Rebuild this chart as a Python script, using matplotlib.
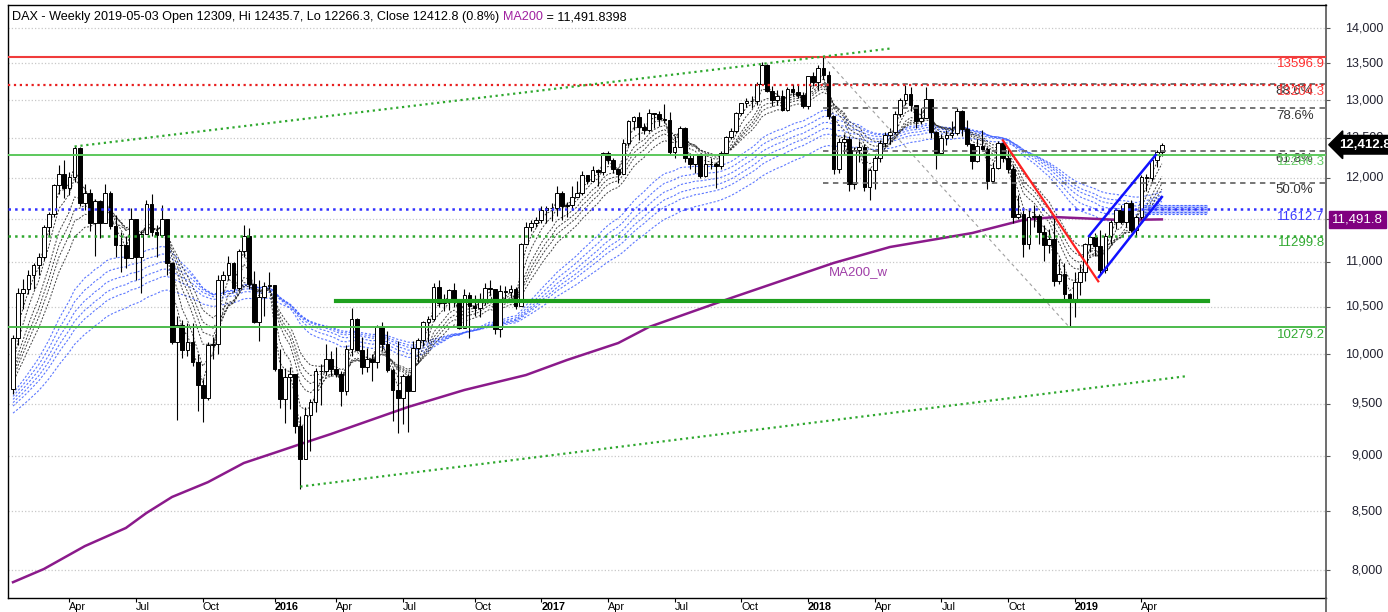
import numpy as np
import pandas as pd
import matplotlib
matplotlib.use("Agg")
import matplotlib.pyplot as plt
from matplotlib.lines import Line2D
from matplotlib.ticker import NullLocator, NullFormatter
from matplotlib.transforms import blended_transform_factory

plt.rcParams['font.family'] = ['Liberation Sans', 'DejaVu Sans']

# weekly closes before the first bar (2013 - Jan 9 2015), only used to warm up the moving averages
warmup_2013 = [7776, 7715, 7702, 7880, 7833, 7638, 7633, 7593, 7741, 7870, 8042, 7931, 7796,
               7658, 7812, 7459, 7815, 8122, 8278, 8399, 8306, 8349, 8254, 8127, 8058, 7789,
               7959, 7806, 8212, 8212, 8297, 8410, 8445, 8390, 8416, 8103, 8275, 8495, 8694,
               8675, 8594, 8725, 8870, 9001, 9009, 9078, 9168, 9226, 9405, 9172, 9006, 9400,
               9589, 9552]
warmup_2014 = [9435, 9473, 9742, 9392, 9306, 9290, 9662, 9657, 9692, 9350, 9056, 9342,
               9587, 9695, 9315, 9409, 9402, 9556, 9581, 9630, 9768, 9943, 9987, 9912,
               9987, 9815, 10009, 9666, 9720, 9644, 9210, 9009, 9092, 9339, 9470, 9747,
               9651, 9799, 9490, 9195, 8788, 8850, 8988, 9326, 9291, 9252, 9732, 9980,
               10087, 9594, 9787, 9865, 9805, 9765, 9648]

# DAX weekly bars, first bar = week ending 2015-01-16
close_2015 = [10168, 10650, 10694, 10846, 10963, 11051, 11402, 11551, 11902, 12039, 11868,
              12001, 12375, 11689, 11811, 11454, 11710, 11447, 11815, 11414, 11197, 11196,
              11040, 11492, 11058, 11316, 11673, 11347, 11309, 11491, 10985, 10125, 10299,
              10038, 10124, 9916, 9689, 9553, 10097, 10104, 10795, 10850, 10988, 10708,
              11120, 11294, 10752, 10340, 10608, 10728, 10743]
high_2015 = [10200, 10702, 10810, 10905, 10990, 11100, 11430, 11580, 11920, 12160, 12220,
             12070, 12391, 12390, 11920, 11860, 11740, 11720, 11920, 11830, 11550, 11340,
             11300, 11630, 11250, 11350, 11720, 11800, 11420, 11670, 11500, 11000, 10400,
             10360, 10330, 10330, 10000, 9750, 10120, 10180, 10850, 10900, 11060, 11000,
             11150, 11430, 11390, 10890, 10800, 10770, 10880]
low_2015 = [9600, 10090, 10480, 10640, 10700, 10850, 11020, 11300, 11520, 11800, 11750,
            11780, 11950, 11650, 11600, 11350, 11060, 11270, 11500, 11380, 11050, 10880,
            10930, 11150, 10800, 10650, 11330, 11300, 11050, 11280, 10850, 10100, 9338,
            9960, 9980, 9880, 9430, 9325, 9540, 9950, 10000, 10640, 10800, 10660,
            10680, 11050, 10700, 10330, 10140, 10400, 10700]

close_2016 = [9849, 9545, 9765, 9798, 9286, 8968, 9388, 9513, 9824, 9831, 9951, 9851,
              9795, 9622, 10052, 10373, 10039, 9870, 9953, 9916, 10286, 10103, 9835, 9631,
              9557, 9776, 9630, 10067, 10147, 10338, 10367, 10713, 10544, 10588, 10684,
              10573, 10276, 10627, 10511, 10491, 10580, 10711, 10696, 10259, 10668, 10665,
              10699, 10513, 11204, 11404, 11450, 11481]
high_2016 = [10690, 10050, 9860, 9870, 9790, 9380, 9470, 9550, 9860, 9900, 10100, 10030,
             10070, 9830, 10090, 10485, 10380, 10180, 10060, 10000, 10300, 10340, 10240, 9860,
             10140, 9800, 9800, 10140, 10170, 10350, 10400, 10760, 10800, 10640, 10700,
             10760, 10570, 10690, 10660, 10630, 10650, 10760, 10800, 10680, 10740, 10730,
             10740, 10720, 11220, 11460, 11480, 11520]
low_2016 = [9830, 9460, 9315, 9450, 9220, 8699, 8980, 9050, 9420, 9490, 9790, 9780,
            9770, 9480, 9590, 9980, 10030, 9800, 9820, 9730, 9860, 10030, 9820, 9330,
            9214, 9300, 9226, 9630, 9920, 10080, 10120, 10350, 10500, 10450, 10460,
            10500, 10260, 10280, 10170, 10400, 10390, 10520, 10630, 10210, 10175, 10560,
            10600, 10480, 10550, 11200, 11360, 11400]

close_2017 = [11599, 11629, 11630, 11814, 11651, 11667, 11757, 11804, 12027, 11963, 12095,
              12064, 12313, 12225, 12109, 12049, 12438, 12717, 12770, 12639, 12602, 12823,
              12816, 12753, 12733, 12325, 12389, 12632, 12240, 12163, 12298, 12014, 12165,
              12168, 12143, 12304, 12519, 12592, 12829, 12956, 12992, 12991, 13218, 13479,
              13127, 12994, 13060, 12861, 13154, 13104, 13073, 12918]
high_2017 = [11650, 11650, 11690, 11890, 11830, 11700, 11890, 11960, 12080, 12030, 12140,
             12110, 12320, 12330, 12250, 12100, 12490, 12740, 12790, 12840, 12700, 12880,
             12830, 12860, 12950, 12840, 12520, 12660, 12640, 12310, 12300, 12300, 12300,
             12240, 12200, 12330, 12530, 12630, 12840, 12960, 13030, 13050, 13250, 13526,
             13490, 13190, 13130, 13140, 13170, 13220, 13200, 13110]
low_2017 = [11450, 11450, 11470, 11530, 11480, 11520, 11600, 11770, 11790, 11920, 11950,
            11900, 12030, 12170, 12060, 11930, 12360, 12400, 12600, 12480, 12550, 12580,
            12630, 12650, 12690, 12300, 12250, 12400, 12200, 12110, 12050, 11990, 12010,
            12100, 11870, 12100, 12300, 12490, 12560, 12800, 12910, 12890, 12940, 13250,
            13110, 12920, 12930, 12850, 12860, 13060, 13030, 12900]

close_2018 = [13320, 13245, 13434, 13340, 12785, 12107, 12452, 12484, 11914, 12347, 12390,
              11886, 12097, 12241, 12442, 12541, 12581, 12820, 13001, 13078, 12938, 12724,
              12767, 13011, 12580, 12306, 12496, 12541, 12561, 12860, 12616, 12424, 12211,
              12395, 12364, 11960, 12124, 12431, 12247, 12112, 11524, 11554, 11201, 11519,
              11529, 11341, 11193, 11257, 10788, 10866, 10634, 10559]
high_2018 = [13330, 13380, 13480, 13597, 13400, 12770, 12500, 12550, 12530, 12380, 12460,
             12420, 12120, 12300, 12480, 12580, 12630, 12850, 13030, 13200, 13170, 12900,
             12900, 13170, 12930, 12590, 12550, 12600, 12720, 12890, 12870, 12740, 12420,
             12490, 12600, 12380, 12200, 12460, 12460, 12360, 12160, 11790, 11600, 11620,
             11660, 11560, 11420, 11380, 11510, 11030, 10990, 10650]
low_2018 = [12880, 13190, 13140, 13290, 12750, 12040, 12050, 12300, 11830, 11860, 12200,
            11830, 11730, 11860, 12200, 12380, 12420, 12550, 12780, 12930, 12850, 12630,
            12680, 12780, 12500, 12100, 12320, 12410, 12500, 12540, 12520, 12400, 12100,
            12200, 12350, 11860, 11930, 12100, 12200, 12050, 11450, 11500, 11050, 11150,
            11400, 11200, 11010, 11100, 10730, 10750, 10580, 10279]

close_2019 = [10768, 10887, 11206, 11282, 11181, 10907, 11300, 11458, 11602, 11458, 11686,
              11364, 11526, 12010, 12000, 12222, 12315, 12413]
high_2019 = [10880, 10980, 11210, 11300, 11330, 11370, 11330, 11480, 11630, 11660, 11700,
             11720, 11550, 12030, 12040, 12250, 12340, 12436]
low_2019 = [10390, 10630, 10780, 11110, 11060, 10860, 10870, 11200, 11380, 11440, 11400,
            11340, 11300, 11500, 11840, 11960, 12130, 12266]

# 200-week moving average (bar index, value)
ma200_bar = [0, 6, 14, 22, 26, 31, 38, 45, 51, 57, 62, 77, 88, 100, 108, 118, 124,
             140, 160, 171, 187, 197, 203, 216, 224]
ma200_val = [7900, 8008, 8200, 8355, 8485, 8627, 8760, 8935, 9030, 9127, 9207, 9467,
             9635, 9785, 9938, 10114, 10283, 10596, 10986, 11169, 11331, 11485, 11520,
             11485, 11492]

short_spans = [3, 5, 8, 10, 12, 15]
long_spans = [30, 35, 40, 45, 50, 60]

# projected zone of the long averages right of the last bar
zone_bars = [220.5, 233]
zone_lo = 11560
zone_hi = 11660

# swing high / low for the fibonacci retracement
swing_high = 13596.9
swing_high_bar = 158
swing_low = 10279.2
swing_low_bar = 206
fib_pcts = [50.0, 61.8, 78.6, 88.6]

# horizontal levels: value, colour, style, width, label colour
levels = [(13596.9, '#f03c3c', '-', 1.5, '#ff3030'),
          (13204.3, '#e82020', ':', 1.6, '#ff4040'),
          (12286.3, '#5cc85c', '-', 1.4, '#66cc66'),
          (11612.7, '#3030ff', ':', 1.8, '#3a3aff'),
          (11299.8, '#2ea82e', ':', 1.8, '#33aa33'),
          (10279.2, '#4cbb4c', '-', 1.4, '#33aa33')]
support_level = 10563
support_bars = [63, 233]

# drawn trend lines: (bar, price) pairs
upper_trend = [(12, 12391), (171, 13710)]
lower_trend = [(56, 8720), (229, 9775)]
red_trend = [(193, 12470), (211.6, 10780)]
channel_top = [(209.8, 11296), (222.8, 12283)]
channel_bottom = [(211.7, 10828), (224, 11761)]

y_ticks = list(range(8000, 14001, 500))

closes = np.array(close_2015 + close_2016 + close_2017 + close_2018 + close_2019, float)
highs = np.array(high_2015 + high_2016 + high_2017 + high_2018 + high_2019, float)
lows = np.array(low_2015 + low_2016 + low_2017 + low_2018 + low_2019, float)
warmup = warmup_2013 + warmup_2014
# weekly open taken as the prior week's close
opens = np.concatenate([[warmup[-1]], closes[:-1]])
n = len(closes)
x = np.arange(n)

dates = pd.date_range('2015-01-16', periods=n, freq='W-FRI')
dates = [d - pd.Timedelta(days=2) if (d.month == 1 and d.day == 1) else d for d in dates]

all_close = pd.Series(list(warmup) + list(closes))
short_ema = [all_close.ewm(span=s, adjust=False).mean().values[-n:] for s in short_spans]
long_ema = [all_close.ewm(span=s, adjust=False).mean().values[-n:] for s in long_spans]

W, H = 1388, 612
fig = plt.figure(figsize=(W / 100, H / 100), dpi=100)
ax = fig.add_axes([8 / W, 14 / H, 1318 / W, 593 / H])
ax.set_yscale('log')
ax.set_xlim(-0.98, 256)
ax.set_ylim(7772, 14341)

# grid
for lv in y_ticks:
    ax.axhline(lv, color='#c8c8c8', ls=':', lw=0.9, zorder=0)

# moving average ribbons
for e in long_ema:
    ax.plot(x, e, color='#4060ff', ls=(0, (2, 1.6)), lw=0.8, alpha=0.85, zorder=1)
for e in short_ema:
    ax.plot(x, e, color='#202020', ls=(0, (2, 1.6)), lw=0.7, alpha=0.85, zorder=1)
ax.fill_between(zone_bars, zone_lo, zone_hi, color='#9aa8ff', alpha=0.6, lw=0, zorder=1)
for v in np.linspace(zone_lo, zone_hi, 5):
    ax.plot(zone_bars, [v, v], color='#4060ff', ls=(0, (2, 1.6)), lw=0.8, zorder=1)

# MA200
ax.plot(ma200_bar, ma200_val, color='#8b1a8b', lw=1.8, zorder=2)
ax.text(159, 10884, 'MA200_w', color='#a040a8', fontsize=9.5, va='center', ha='left')

# candles
up = closes >= opens
ax.vlines(x, lows, highs, color='black', lw=0.8, zorder=3)
body_lo = np.minimum(opens, closes)
body_hi = np.maximum(opens, closes)
ax.bar(x[up], body_hi[up] - body_lo[up], bottom=body_lo[up], width=0.72,
       facecolor='white', edgecolor='black', lw=0.7, zorder=4)
ax.bar(x[~up], body_hi[~up] - body_lo[~up], bottom=body_lo[~up], width=0.72,
       facecolor='black', edgecolor='black', lw=0.7, zorder=4)

# fibonacci retracement
ax.plot([swing_high_bar, swing_low_bar], [swing_high, swing_low], color='#a0a0a0',
        ls=(0, (3, 3)), lw=0.8, zorder=5)
xr = ax.get_xlim()[1]
for p in fib_pcts:
    lv = swing_low + p / 100 * (swing_high - swing_low)
    ax.plot([swing_high_bar, xr], [lv, lv], color='#6a6a6a', ls=(0, (3, 2.5)), lw=1.3, zorder=5)
    ax.annotate('%.1f%%' % p, xy=(1, lv), xycoords=('axes fraction', 'data'),
                xytext=(-9, -1), textcoords='offset points', ha='right', va='top',
                fontsize=9.5, color='#333333')

# horizontal levels
for val, col, ls, lw, lcol in levels:
    ax.axhline(val, color=col, ls=ls, lw=lw, zorder=5)
    ax.annotate('%.1f' % val, xy=(1, val), xycoords=('axes fraction', 'data'),
                xytext=(-1, -1), textcoords='offset points', ha='right', va='top',
                fontsize=9.5, color=lcol)
ax.plot(support_bars, [support_level, support_level], color='#1ea01e', lw=3, zorder=5)

# trend lines
for pts, col, ls, lw in [(upper_trend, '#2ea82e', ':', 1.6), (lower_trend, '#2ea82e', ':', 1.6),
                         (red_trend, '#ff2020', '-', 1.6), (channel_top, '#1010ff', '-', 1.8),
                         (channel_bottom, '#1010ff', '-', 1.8)]:
    ax.plot([p[0] for p in pts], [p[1] for p in pts], color=col, ls=ls, lw=lw, zorder=6)

# title line
t1 = ax.text(4 / 1318, 1 - 12 / 593, 'DAX - Weekly 2019-05-03 Open 12309, Hi 12435.7, '
             'Lo 12266.3, Close 12412.8 (0.8%) ', transform=ax.transAxes,
             fontsize=9.1, va='center', ha='left', color='black')
t2 = ax.annotate('MA200', xy=(1, 0), xycoords=t1, va='bottom', ha='left',
                 fontsize=9.1, color='#a020a0')
ax.annotate(' = 11,491.8398', xy=(1, 0), xycoords=t2, va='bottom', ha='left',
            fontsize=9.1, color='black')

# axes, ticks
for s in ['left', 'top', 'bottom']:
    ax.spines[s].set_color('black')
    ax.spines[s].set_linewidth(1.0)
ax.spines['right'].set_color('#555555')
ax.spines['right'].set_linewidth(1.2)

ax.yaxis.tick_right()
ax.yaxis.set_minor_locator(NullLocator())
ax.yaxis.set_minor_formatter(NullFormatter())
ax.set_yticks(y_ticks)
ax.set_yticklabels([])
ax.tick_params(axis='y', direction='out', length=3, color='#555555')
tr = blended_transform_factory(ax.transAxes, ax.transData)
for lv in y_ticks:
    ax.text(1 + 57 / 1318, lv, '{:,}'.format(lv), transform=tr, ha='right', va='center',
            fontsize=9, color='#222230', clip_on=False, zorder=1)

tick_pos = []
tick_lab = []
for i in range(1, n):
    m = dates[i].month
    if m in (1, 4, 7, 10) and dates[i - 1].month != m:
        tick_pos.append(i)
        tick_lab.append(str(dates[i].year) if m == 1 else dates[i].strftime('%b'))
ax.set_xticks(tick_pos)
ax.set_xticklabels(tick_lab, fontsize=7.8)
for lab in ax.get_xticklabels():
    lab.set_horizontalalignment('left')
    if lab.get_text().isdigit():
        lab.set_fontweight('bold')
ax.tick_params(axis='x', direction='out', length=3, pad=0)

# price tags right of the axis
ax.annotate('12,412.8', xy=(1 + 13 / 1318, closes[-1]), xycoords=('axes fraction', 'data'),
            ha='left', va='center', fontsize=9.5, color='white', fontweight='bold',
            bbox=dict(boxstyle='larrow,pad=0.25', fc='black', ec='black'),
            annotation_clip=False, zorder=10)
ax.annotate('11,491.8', xy=(1 + 6 / 1318, ma200_val[-1]), xycoords=('axes fraction', 'data'),
            ha='left', va='center', fontsize=9.5, color='white',
            bbox=dict(boxstyle='square,pad=0.2', fc='#800080', ec='#800080'),
            annotation_clip=False, zorder=10)

fig.add_artist(Line2D([1326 / W, 1326 / W], [0, 14 / H], color='#555555', lw=1.2))

fig.savefig('out.png', dpi=100)
